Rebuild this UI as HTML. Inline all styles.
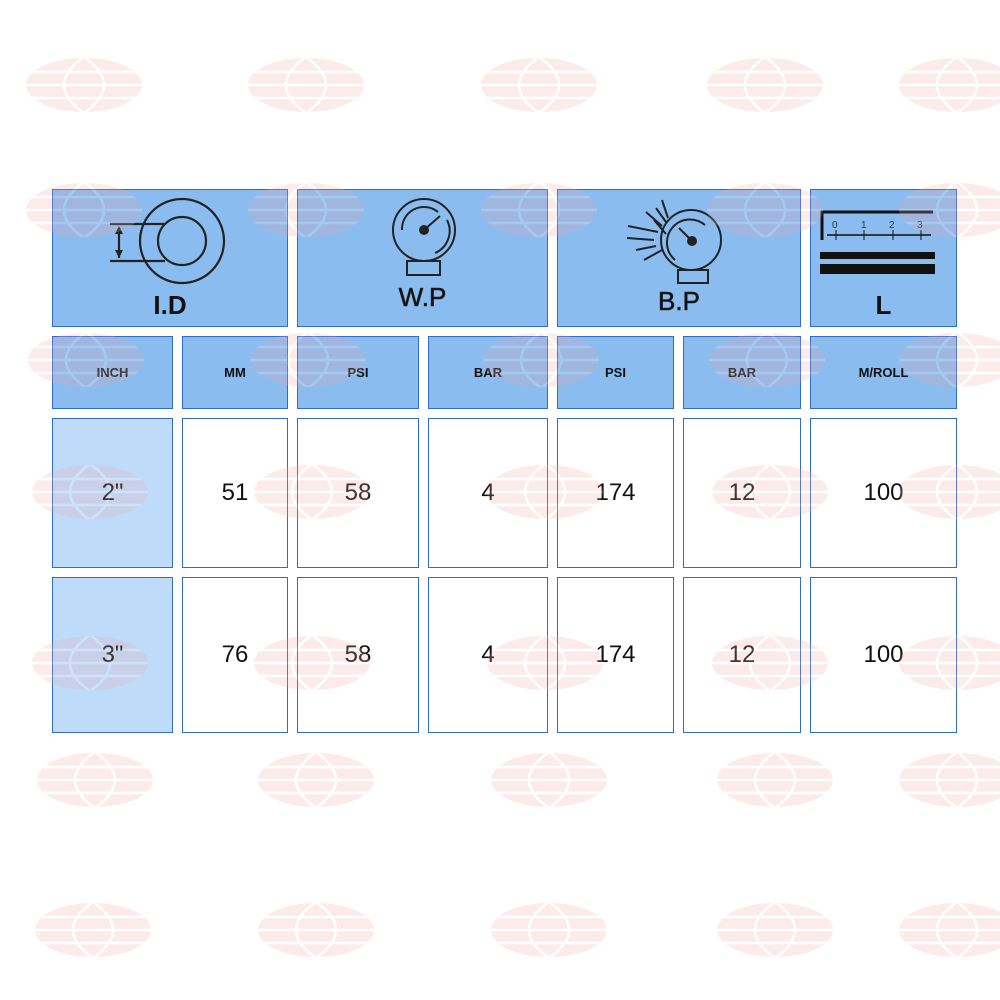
<!DOCTYPE html>
<html><head><style>
body{margin:0;width:1000px;height:1000px;background:#fff;position:relative;overflow:hidden;font-family:"Liberation Sans",sans-serif}
.b{position:absolute;box-sizing:border-box;border:1px solid #2f6ccc;display:flex;align-items:center;justify-content:center}
.h{background:#8bbcf0}
.s{font-weight:bold;font-size:13px;color:#111}
.d{font-size:24px;color:#111;background:#fff}
.l{background:#bedcfa}
.t{position:absolute;font-weight:bold;font-size:26px;color:#111;width:100%;text-align:center}
svg.w{position:absolute;left:0;top:0;pointer-events:none}
</style></head><body>
<div class="b h" style="left:52px;top:189px;width:236px;height:138px">
<svg width="236" height="138" style="position:absolute;left:0;top:0"><g fill="none" stroke="#222" stroke-width="2.2"><circle cx="129" cy="51" r="42"/><circle cx="129" cy="51" r="24"/><line x1="57" y1="34" x2="112" y2="34"/><line x1="57" y1="71" x2="112" y2="71"/><line x1="66" y1="38" x2="66" y2="68"/></g><path d="M62 44 L66 36 L70 44Z M62 60 L66 68 L70 60Z" fill="#222"/></svg>
<div class="t" style="top:100px">I.D</div></div>
<div class="b h" style="left:297px;top:189px;width:251px;height:138px">
<svg width="251" height="138" style="position:absolute;left:0;top:0"><g fill="none" stroke="#222" stroke-width="2"><circle cx="126" cy="40" r="31"/><path d="M104 40 A22 22 0 0 1 140 22"/><path d="M149 30 A24 24 0 0 1 137 63"/><line x1="126" y1="40" x2="142" y2="26"/><rect x="109" y="71" width="33" height="14"/></g><circle cx="126" cy="40" r="5" fill="#222"/></svg>
<div class="t" style="top:92px;font-weight:normal;-webkit-text-stroke:0.6px #222">W.P</div></div>
<div class="b h" style="left:557px;top:189px;width:244px;height:138px">
<svg width="244" height="138" style="position:absolute;left:0;top:0"><g fill="none" stroke="#222" stroke-width="2"><circle cx="133" cy="50" r="30"/><path d="M117 70 A21 21 0 0 1 147 35"/><line x1="133" y1="50" x2="121" y2="38"/><rect x="120" y="80" width="30" height="13"/><path d="M70 36 L100 42 M69 48 L96 50 M78 60 L98 56 M86 70 L104 60 M88 22 L104 36 M98 18 L108 32 M104 10 L110 28 M96 30 L108 44"/></g><circle cx="134" cy="51" r="5" fill="#222"/></svg>
<div class="t" style="top:96px;font-weight:normal;-webkit-text-stroke:0.6px #222">B.P</div></div>
<div class="b h" style="left:810px;top:189px;width:147px;height:138px">
<svg width="147" height="138" style="position:absolute;left:0;top:0"><g stroke="#111"><path d="M11 50 V22 H122" fill="none" stroke-width="3"/><line x1="16" y1="45" x2="120" y2="45" stroke-width="1.5"/><line x1="25" y1="40" x2="25" y2="50"/><line x1="53" y1="40" x2="53" y2="50"/><line x1="82" y1="40" x2="82" y2="50"/><line x1="110" y1="40" x2="110" y2="50"/></g><rect x="9" y="62" width="115" height="7" fill="#111"/><rect x="9" y="74" width="115" height="10" fill="#111"/><g font-size="10" fill="#333" font-family="Liberation Sans"><text x="21" y="38">0</text><text x="50" y="38">1</text><text x="78" y="38">2</text><text x="106" y="38">3</text></g></svg>
<div class="t" style="top:100px">L</div></div>

<div class="b h s" style="left:52px;top:336px;width:121px;height:73px">INCH</div>
<div class="b h s" style="left:182px;top:336px;width:106px;height:73px">MM</div>
<div class="b h s" style="left:297px;top:336px;width:122px;height:73px">PSI</div>
<div class="b h s" style="left:428px;top:336px;width:120px;height:73px">BAR</div>
<div class="b h s" style="left:557px;top:336px;width:117px;height:73px">PSI</div>
<div class="b h s" style="left:683px;top:336px;width:118px;height:73px">BAR</div>
<div class="b h s" style="left:810px;top:336px;width:147px;height:73px">M/ROLL</div>

<div class="b d l" style="left:52px;top:418px;width:121px;height:150px">2"</div>
<div class="b d" style="left:182px;top:418px;width:106px;height:150px">51</div>
<div class="b d" style="left:297px;top:418px;width:122px;height:150px">58</div>
<div class="b d" style="left:428px;top:418px;width:120px;height:150px">4</div>
<div class="b d" style="left:557px;top:418px;width:117px;height:150px">174</div>
<div class="b d" style="left:683px;top:418px;width:118px;height:150px">12</div>
<div class="b d" style="left:810px;top:418px;width:147px;height:150px">100</div>

<div class="b d l" style="left:52px;top:577px;width:121px;height:156px">3"</div>
<div class="b d" style="left:182px;top:577px;width:106px;height:156px">76</div>
<div class="b d" style="left:297px;top:577px;width:122px;height:156px">58</div>
<div class="b d" style="left:428px;top:577px;width:120px;height:156px">4</div>
<div class="b d" style="left:557px;top:577px;width:117px;height:156px">174</div>
<div class="b d" style="left:683px;top:577px;width:118px;height:156px">12</div>
<div class="b d" style="left:810px;top:577px;width:147px;height:156px">100</div>

<svg class="w" width="1000" height="1000">
<defs><clipPath id="c"><ellipse cx="0" cy="0" rx="58" ry="27"/></clipPath>
<g id="m"><ellipse cx="0" cy="0" rx="58" ry="27" fill="#f2a6a6"/><g stroke="#fff" stroke-width="2.5" fill="none" clip-path="url(#c)"><line x1="-60" y1="-13" x2="60" y2="-13"/><line x1="-60" y1="0" x2="60" y2="0"/><line x1="-60" y1="13" x2="60" y2="13"/><path d="M0 -28 Q-40 0 0 28 Q40 0 0 -28Z"/></g></g></defs>
<g opacity="0.22">
<use href="#m" x="84" y="85"/><use href="#m" x="306" y="85"/><use href="#m" x="539" y="85"/><use href="#m" x="765" y="85"/><use href="#m" x="957" y="85"/>
<use href="#m" x="84" y="210"/><use href="#m" x="306" y="210"/><use href="#m" x="539" y="210"/><use href="#m" x="765" y="210"/><use href="#m" x="957" y="210"/>
<use href="#m" x="86" y="360"/><use href="#m" x="308" y="360"/><use href="#m" x="541" y="360"/><use href="#m" x="767" y="360"/><use href="#m" x="957" y="360"/>
<use href="#m" x="90" y="492"/><use href="#m" x="312" y="492"/><use href="#m" x="545" y="492"/><use href="#m" x="770" y="492"/><use href="#m" x="957" y="492"/>
<use href="#m" x="90" y="663"/><use href="#m" x="312" y="663"/><use href="#m" x="545" y="663"/><use href="#m" x="770" y="663"/><use href="#m" x="957" y="663"/>
<use href="#m" x="95" y="780"/><use href="#m" x="316" y="780"/><use href="#m" x="549" y="780"/><use href="#m" x="775" y="780"/><use href="#m" x="957" y="780"/>
<use href="#m" x="93" y="930"/><use href="#m" x="316" y="930"/><use href="#m" x="549" y="930"/><use href="#m" x="775" y="930"/><use href="#m" x="957" y="930"/>
</g></svg>
</body></html>
